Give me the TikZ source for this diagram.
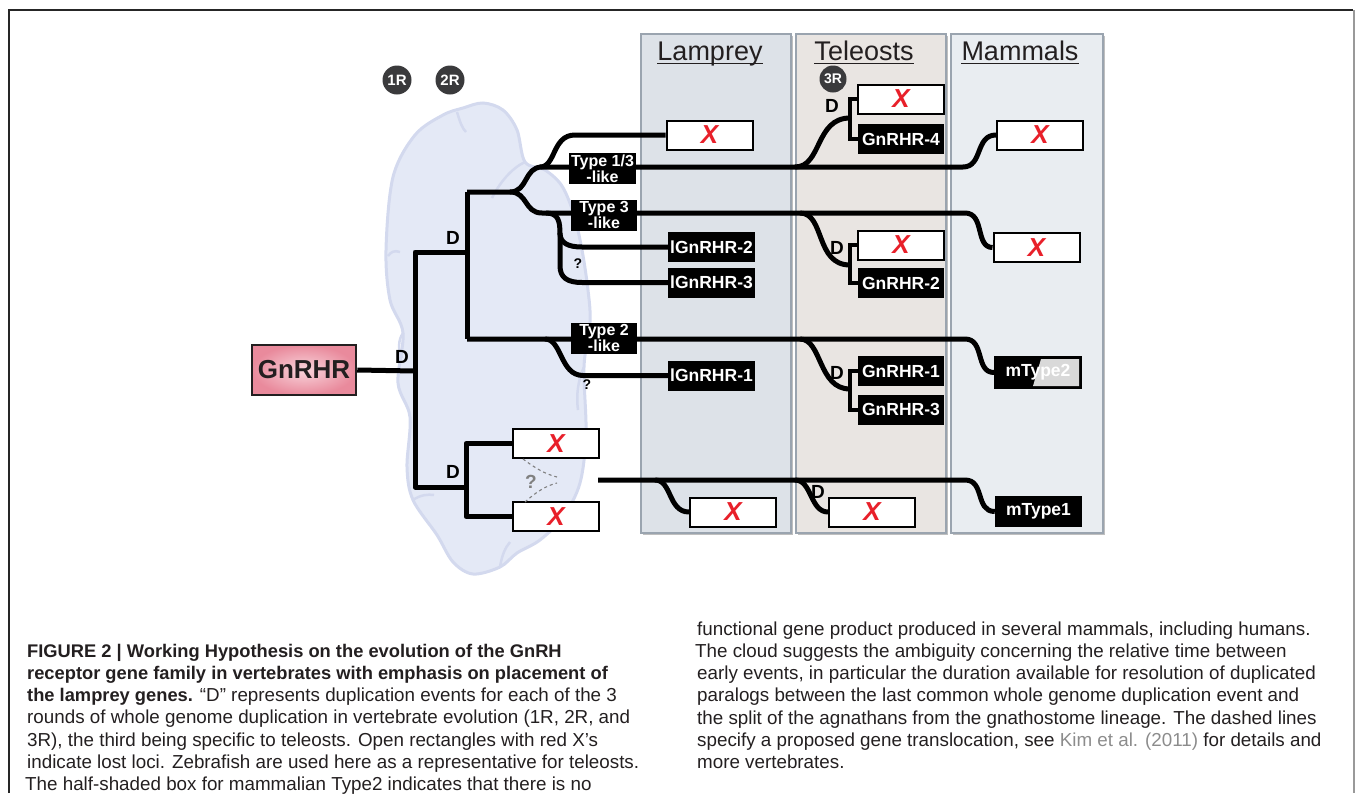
\documentclass[tikz,border=0pt]{standalone}
\usepackage{fontspec}
\setmainfont{Liberation Sans}
\usetikzlibrary{calc}
\definecolor{xred}{HTML}{E8202A}
\definecolor{panelL}{HTML}{DDE2E8}
\definecolor{panelT}{HTML}{E9E5E2}
\definecolor{panelM}{HTML}{E9EDF1}
\definecolor{panelB}{HTML}{9AA4AF}
\definecolor{cloudF}{HTML}{E4E9F6}
\definecolor{cloudL}{HTML}{D3D9EE}
\definecolor{txt}{HTML}{231F20}
\definecolor{pinkA}{HTML}{F4B8C4}
\definecolor{pinkB}{HTML}{E98A9C}
\definecolor{circ}{HTML}{3A3A3C}
\definecolor{halfg}{HTML}{D9D9D9}
\newcommand{\capbf}[1]{{\fontsize{18.3}{22}\selectfont\bfseries #1}}
\begin{document}
\begin{tikzpicture}[x=1pt,y=-1pt,
  treeline/.style={line width=5pt, line join=round},
  bracketline/.style={line width=4pt, line join=miter},
  xbox/.style={draw=black, line width=2pt, fill=white, minimum width=86pt, minimum height=29pt, inner sep=0pt, text=xred, font=\bfseries\itshape\fontsize{26}{26}\selectfont},
  gbox/.style={fill=black, text=white, minimum width=87pt, minimum height=30pt, inner sep=0pt, font=\bfseries\fontsize{17.5}{18}\selectfont},
  tlab/.style={fill=black, text=white, minimum width=66pt, minimum height=31pt, inner sep=0pt, align=center, font=\bfseries\fontsize{16}{14}\selectfont},
  dlab/.style={font=\bfseries\fontsize{19}{19}\selectfont, inner sep=0pt, text=black},
  qlab/.style={font=\bfseries\fontsize{14}{14}\selectfont, inner sep=0pt},
  rcirc/.style={circle, fill=circ, text=white, minimum size=29pt, inner sep=0pt, font=\bfseries\fontsize{15}{15}\selectfont},
  headertext/.style={anchor=base, inner sep=0pt, text=txt, font=\fontsize{27}{27}\selectfont},
  panelbox/.style={draw=panelB, line width=1.3pt},
  captext/.style={anchor=base west, inner sep=0pt, text=txt, font=\fontsize{18.8}{22}\selectfont}
]
\useasboundingbox (0,0) rectangle (1355,793);
% frame
\draw[line width=1.6pt, black!85] (9,793) -- (9,10) -- (1353,10);
\draw[line width=1.6pt, black!40] (1354,10) -- (1354,793);

% panels
\fill[black!25] (643,36) rectangle (793,535);
\fill[black!25] (798,36) rectangle (948,535);
\fill[black!25] (953,36) rectangle (1105,535);
\path[panelbox, fill=panelL] (641,34) rectangle (791,533);
\path[panelbox, fill=panelT] (796,34) rectangle (946,533);
\path[panelbox, fill=panelM] (951,34) rectangle (1103,533);

% headers
\node[headertext] (hL) at (710,60) {Lamprey};
\node[headertext] (hT) at (864,60) {Teleosts};
\node[headertext] (hM) at (1020,60) {Mammals};
\foreach \h in {hL,hT,hM}{
  \draw[line width=1.5pt, txt] ($(\h.base west)+(0,3.5)$) -- ($(\h.base east)+(0,3.5)$);
}

% cloud
\filldraw[fill=cloudF, draw=cloudL, line width=3pt]
  plot[smooth cycle, tension=0.55] coordinates {
  (443,115) (463,108) (483,103) (503,110) (517,130) (525,162) (545,170) (562,186)
  (574,215) (582,250) (588,290) (590,322) (584,367) (586,433) (580,483) (563,517)
  (540,540) (517,553) (500,567) (473,574) (453,562) (437,535) (413,500) (407,467)
  (410,417) (398,383) (403,333) (390,300) (386,250) (393,177) (415,135)};
\draw[cloudL, line width=2.5pt] (457,112) .. controls (460,122) and (462,128) .. (466,132);
\draw[cloudL, line width=2.5pt] (400,252) .. controls (394,250) and (391,252) .. (388,256);
\draw[cloudL, line width=2.5pt] (525,162) .. controls (512,168) and (500,182) .. (492,198);
\draw[cloudL, line width=2.5pt] (413,500) .. controls (420,495) and (428,494) .. (434,495);
\draw[cloudL, line width=2.5pt] (500,567) .. controls (502,555) and (505,548) .. (510,542);
\draw[cloudL, line width=2.5pt] (403,333) .. controls (398,340) and (398,350) .. (402,358);
\draw[cloudL, line width=2.5pt] (584,367) .. controls (578,380) and (576,395) .. (578,410);

% round markers
\node[rcirc] (c1) at (397,80) {1R};
\node[rcirc] (c2) at (450,80) {2R};
\node[rcirc, minimum size=27pt, font=\bfseries\fontsize{14}{14}\selectfont] (c3) at (833,79) {3R};

% root box
\node[draw=txt, line width=2.5pt, inner color=pinkA!60, outer color=pinkB, minimum width=104pt, minimum height=50pt, inner sep=0pt, text=txt, font=\bfseries\fontsize{26}{26}\selectfont] (gnrhr) at (304,370) {GnRHR};

% boxes: lamprey
\node[xbox] (lx1) at (709.5,135) {X};
\node[gbox] (lg2) at (711.5,247) {lGnRHR-2};
\node[gbox] (lg3) at (711.5,282.5) {lGnRHR-3};
\node[gbox] (lg1) at (711.5,375.5) {lGnRHR-1};
\node[xbox] (lx2) at (733,512) {X};
% teleosts
\node[xbox] (tx1) at (901,99) {X};
\node[gbox, minimum width=86pt] (tg4) at (901,139) {GnRHR-4};
\node[xbox] (tx2) at (901,245) {X};
\node[gbox, minimum width=86pt] (tg2) at (901,283) {GnRHR-2};
\node[gbox, minimum width=86pt] (tg1) at (901,371) {GnRHR-1};
\node[gbox, minimum width=86pt] (tg3) at (901,409.5) {GnRHR-3};
\node[xbox] (tx4) at (872,512) {X};
% mammals
\node[xbox] (mx1) at (1040,135) {X};
\node[xbox] (mx2) at (1036.5,247.5) {X};
\node[gbox, draw=black, line width=2pt, minimum width=86pt, minimum height=31pt,
  path picture={\fill[halfg]
    ($(path picture bounding box.north east)+(-40,2)$) --
    ($(path picture bounding box.north east)+(-2,2)$) --
    ($(path picture bounding box.south east)+(-2,-2)$) --
    ($(path picture bounding box.south west)+(38,-2)$) -- cycle;}] (mT2) at (1038,372.5) {mType2};
\node[gbox, minimum width=87pt, minimum height=31pt] (mT1) at (1038.5,511.5) {mType1};
% lower clade X boxes
\node[xbox] (lo1) at (556,443.5) {X};
\node[xbox] (lo2) at (556,516.5) {X};

% junction coordinates
\coordinate (r0) at (415,371);
\coordinate (n1) at (415,252);
\coordinate (n2) at (415,487);
\coordinate (u) at (467,252);
\coordinate (ut) at (467,192);
\coordinate (ub) at (467,339);
\coordinate (lw) at (467,487);
\coordinate (sp) at (510,192);
\coordinate (bstart) at (598,480);

% tree
\draw[treeline] (gnrhr.east) -- (r0);
\draw[treeline] (u) -- (n1) -- (n2) -- (lw);
\draw[treeline] (ut) -- (ub);
% type 1/3 line
\draw[treeline] (ut) -- (sp) .. controls (528,192) and (524,167) .. (542,167) -- (963,167) .. controls (983,167) and (975,135) .. (mx1.west);
\draw[treeline] (540,167) .. controls (556,167) and (552,135) .. (575,135) -- (lx1.west);
\draw[treeline] (795,167) .. controls (822,167) and (815,118) .. (850,118);
\draw[bracketline] (tx1.west) -| ($(tg4.west)+(-8,0)$) -- (tg4.west);
% type 3 line
\draw[treeline] (sp) .. controls (528,192) and (524,213) .. (542,213) -- (965,213) .. controls (985,213) and (975,247.5) .. (mx2.west);
\draw[treeline] (546,213) .. controls (559,213) and (560,222) .. (560,235) -- (560,266) .. controls (560,278) and (568,282.5) .. (582,282.5) -- (lg3.west);
\draw[treeline] (560,233) .. controls (560,243) and (568,247) .. (582,247) -- (lg2.west);
\draw[treeline] (800,213) .. controls (825,213) and (815,265) .. (850,265);
\draw[bracketline] (tx2.west) -| ($(tg2.west)+(-8,0)$) -- (tg2.west);
% type 2 line
\draw[treeline] (ub) -- (965,339) .. controls (985,339) and (975,372.5) .. (mT2.west);
\draw[treeline] (545,339) .. controls (562,339) and (560,375.5) .. (583,375.5) -- (lg1.west);
\draw[treeline] (800,339) .. controls (822,339) and (818,389) .. (850,389);
\draw[bracketline] (tg1.west) -| ($(tg3.west)+(-8,0)$) -- (tg3.west);
% lower clade
\draw[treeline] (lo1.west) -| ($(lo2.west)+(-46,0)$) -- (lo2.west);
\draw[gray, dashed, line width=1.1pt] (523,459) .. controls (535,468) and (545,474) .. (557,477);
\draw[gray, dashed, line width=1.1pt] (525,502) .. controls (535,493) and (545,486) .. (557,483);
\draw[treeline] (bstart) -- (965,480) .. controls (985,480) and (975,511.5) .. (mT1.west);
\draw[treeline] (655,480) .. controls (672,480) and (668,512) .. (lx2.west);
\draw[treeline] (795,480) .. controls (812,480) and (810,512) .. (tx4.west);

% type labels on lines
\node[tlab, minimum width=67pt] (l13) at (602.5,168.5) {Type 1/3\\-like};
\node[tlab] (l3) at (604,215) {Type 3\\-like};
\node[tlab] (l2) at (604,338) {Type 2\\-like};

% D labels
\node[dlab] (d0) at (402,357) {D};
\node[dlab] (d1) at (453,238) {D};
\node[dlab] (d2) at (453,472) {D};
\node[dlab] (dt1) at (832,106) {D};
\node[dlab] (dt2) at (837,248) {D};
\node[dlab] (dt3) at (837,373) {D};
\node[dlab] (dt4) at (818,492) {D};
% question marks
\node[qlab] (q1) at (578,264) {?};
\node[qlab] (q2) at (587,385) {?};
\node[qlab, text=gray, font=\bfseries\fontsize{19}{19}\selectfont] (q3) at (531,482) {?};

% caption
\node[captext] (L1) at (27,657) {\capbf{FIGURE 2 | Working Hypothesis on the evolution of the GnRH}};
\node[captext] (L2) at (27,679.3) {\capbf{receptor gene family in vertebrates with emphasis on placement of}};
\node[captext] (L3) at (27,701.6) {\capbf{the lamprey genes.} “D” represents duplication events for each of the 3};
\node[captext] (L4) at (27,723.9) {rounds of whole genome duplication in vertebrate evolution (1R, 2R, and};
\node[captext] (L5) at (27,746.2) {3R), the third being specific to teleosts. Open rectangles with red X’s};
\node[captext] (L6) at (27,768.5) {indicate lost loci. Zebrafish are used here as a representative for teleosts.};
\node[captext] (L7) at (25,790.8) {The half-shaded box for mammalian Type2 indicates that there is no};
\node[captext] (R1) at (697,635) {functional gene product produced in several mammals, including humans.};
\node[captext] (R2) at (695,657.3) {The cloud suggests the ambiguity concerning the relative time between};
\node[captext] (R3) at (697,679.6) {early events, in particular the duration available for resolution of duplicated};
\node[captext] (R4) at (697,701.9) {paralogs between the last common whole genome duplication event and};
\node[captext] (R5) at (697,724.2) {the split of the agnathans from the gnathostome lineage. The dashed lines};
\node[captext] (R6) at (697,746.5) {specify a proposed gene translocation, see \textcolor{black!45}{Kim et al. (2011)} for details and};
\node[captext] (R7) at (697,768.8) {more vertebrates.};
\end{tikzpicture}
\end{document}
